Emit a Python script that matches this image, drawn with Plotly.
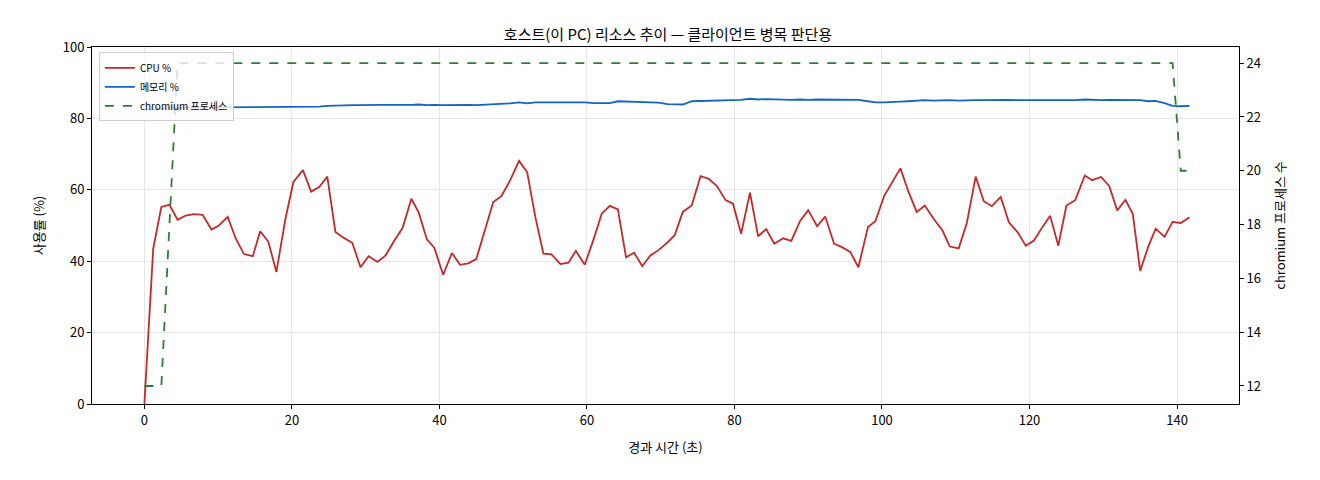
import plotly.graph_objects as go

t = [0, 1.2, 2.3, 3.4, 4.5, 5.6, 6.7, 7.9, 9.1, 10.1, 11.3, 12.4, 13.5, 14.7, 15.7, 16.8, 17.9,
     19.1, 20.2, 21.5, 22.6, 23.7, 24.8, 25.9, 27.0, 28.2, 29.3, 30.4, 31.6, 32.7, 33.9, 35.0,
     36.2, 37.2, 38.3, 39.3, 40.5, 41.7, 42.8, 43.9, 45.0, 46.2, 47.3, 48.4, 49.6, 50.8, 51.9,
     53.0, 54.1, 55.2, 56.4, 57.5, 58.5, 59.7, 60.9, 62.0, 63.1, 64.2, 65.3, 66.4, 67.5, 68.6,
     69.7, 70.9, 71.9, 73.0, 74.2, 75.4, 76.5, 77.6, 78.8, 79.8, 80.9, 82.1, 83.2, 84.3, 85.4,
     86.6, 87.7, 88.9, 90.0, 91.2, 92.3, 93.5, 94.5, 95.7, 96.8, 98.1, 99.1, 100.3, 101.4,
     102.5, 103.6, 104.7, 105.8, 107.0, 108.2, 109.2, 110.4, 111.5, 112.7, 113.8, 114.9,
     116.1, 117.2, 118.4, 119.5, 120.6, 121.7, 122.8, 123.9, 125.0, 126.2, 127.5, 128.5,
     129.7, 130.8, 131.9, 133.0, 134.0, 135.0, 136.1, 137.1, 138.3, 139.4, 140.5, 141.7]

cpu = [0, 43.5, 55.2, 55.8, 51.6, 52.8, 53.2, 53.0, 48.9, 50.0, 52.4, 46.3, 42.0, 41.4, 48.4,
       45.5, 37.0, 51.6, 62.2, 65.5, 59.5, 60.8, 63.7, 48.2, 46.6, 45.1, 38.3, 41.4, 39.8, 41.6,
       45.8, 49.3, 57.5, 53.6, 46.1, 43.8, 36.2, 42.3, 39.0, 39.4, 40.6, 48.6, 56.6, 58.2, 62.7,
       68.1, 64.9, 52.4, 42.1, 41.9, 39.2, 39.6, 42.9, 39.0, 46.1, 53.3, 55.5, 54.5, 41.1, 42.4,
       38.6, 41.6, 43.1, 45.2, 47.3, 53.8, 55.6, 63.8, 63.1, 61.1, 57.1, 56.1, 47.7, 59.2, 47.0,
       49.0, 44.9, 46.4, 45.7, 51.3, 54.3, 49.8, 52.5, 44.9, 44.0, 42.6, 38.3, 49.6, 51.2, 58.3,
       62.1, 66.0, 59.4, 53.8, 55.6, 51.9, 48.6, 44.1, 43.6, 50.7, 63.7, 56.8, 55.4, 58.0, 50.9,
       48.1, 44.3, 45.8, 49.4, 52.7, 44.3, 55.6, 57.1, 64.0, 62.7, 63.6, 61.1, 54.2, 57.2, 53.3,
       37.3, 44.1, 49.1, 46.8, 51.0, 50.7, 52.3]

mem = [82.4, 82.6, 82.7, 82.8, 82.9, 83.0, 83.0, 83.1, 83.1, 83.1, 83.2, 83.2, 83.1, 83.1, 83.2,
       83.2, 83.1, 83.1, 83.1, 83.2, 83.2, 83.3, 83.5, 83.6, 83.7, 83.7, 83.7, 83.8, 83.8, 83.8,
       83.7, 83.8, 83.8, 83.9, 83.7, 83.8, 83.7, 83.8, 83.7, 83.8, 83.7, 83.8, 83.8, 83.9, 84.2,
       84.5, 84.2, 84.5, 84.5, 84.6, 84.6, 84.5, 84.6, 84.5, 84.3, 84.4, 84.3, 84.8, 84.7, 84.7,
       84.7, 84.6, 84.4, 84.0, 84.0, 83.9, 84.8, 84.9, 84.9, 85.0, 85.0, 85.2, 85.2, 85.5, 85.3,
       85.4, 85.3, 85.2, 85.2, 85.3, 85.2, 85.3, 85.3, 85.3, 85.2, 85.3, 85.2, 84.8, 84.5, 84.5,
       84.7, 84.7, 84.8, 85.0, 85.1, 85.0, 85.1, 85.1, 85.0, 85.1, 85.1, 85.1, 85.2, 85.2, 85.2,
       85.1, 85.1, 85.2, 85.1, 85.2, 85.0, 85.0, 85.1, 85.3, 85.2, 85.1, 85.2, 85.2, 85.2, 85.2,
       85.1, 84.8, 84.9, 84.3, 83.5, 83.4, 83.5]

procs = [12, 12, 12, 18, 24] + [24] * 120 + [20, 20, 20]

fig = go.Figure()
fig.add_trace(go.Scatter(x=t, y=cpu, mode="lines", name="CPU %",
                         line=dict(color="#c62828", width=1.8)))
fig.add_trace(go.Scatter(x=t, y=mem, mode="lines", name="메모리 %",
                         line=dict(color="#1565c0", width=1.8)))
fig.add_trace(go.Scatter(x=t, y=procs, mode="lines", name="chromium 프로세스", yaxis="y2",
                         line=dict(color="#2e7d32", width=1.8, dash="dash")))

axis_style = dict(showline=True, linecolor="black", linewidth=1, ticks="outside",
                  ticklen=4, tickcolor="black", zeroline=False,
                  tickfont=dict(size=13, color="black"))

fig.update_layout(
    width=1320, height=480,
    margin=dict(l=84, r=89, t=39, b=84),
    plot_bgcolor="white", paper_bgcolor="white",
    font=dict(family="Noto Sans CJK KR", color="black"),
    title=dict(text="호스트(이 PC) 리소스 추이 — 클라이언트 병목 판단용", x=0.5, y=0.955,
               xanchor="center", font=dict(size=15)),
    xaxis=dict(range=[-7.1, 148.4], tickvals=[0, 20, 40, 60, 80, 100, 120, 140],
               title=dict(text="경과 시간 (초)", font=dict(size=13)),
               showgrid=True, gridcolor="#e6e6e6", mirror=True, **axis_style),
    yaxis=dict(range=[0, 100], tickvals=[0, 20, 40, 60, 80, 100],
               title=dict(text="사용률 (%)", font=dict(size=13)),
               showgrid=True, gridcolor="#e6e6e6", mirror=True, **axis_style),
    yaxis2=dict(range=[11.33, 24.6], tickvals=[12, 14, 16, 18, 20, 22, 24], overlaying="y",
                side="right", showgrid=False,
                title=dict(text="chromium 프로세스 수", font=dict(size=13)), **axis_style),
    legend=dict(x=0.006, y=0.985, xanchor="left", yanchor="top", bgcolor="rgba(255,255,255,0.8)",
                bordercolor="#cccccc", borderwidth=1, font=dict(size=10), tracegroupgap=0),
)

fig.write_html("out.html")
